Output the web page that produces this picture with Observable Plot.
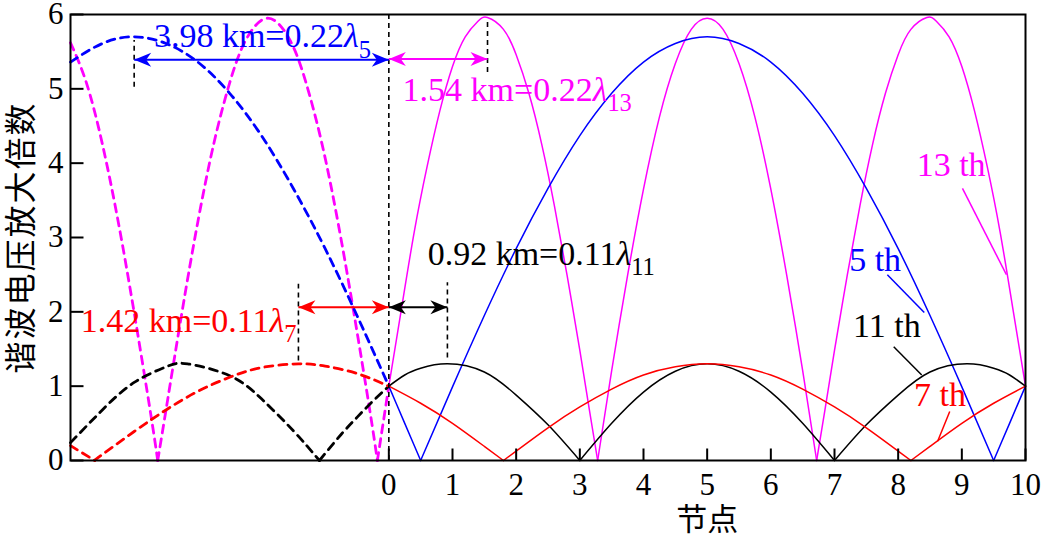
<!DOCTYPE html>
<html><head><meta charset="utf-8">
<script src="https://cdn.jsdelivr.net/npm/d3@7"></script>
<script src="https://cdn.jsdelivr.net/npm/@observablehq/plot@0.6"></script>
<style>body{margin:0;background:#fff} #chart svg{display:block}</style>
</head><body><div id="chart"></div>
<script>
// ---------- data ----------
const xTicks = [0,1,2,3,4,5,6,7,8,9,10];
const yTicks = [0,1,2,3,4,5,6];
const xDomain = [-5, 10];
const yDomain = [0, 6];
const xTitle = "节点";
const yTitle = "谐波电压放大倍数";

// 5th harmonic (blue)
const h5DashX = [-5,-4.5,-4,-3.5,-3,-2.5,-2,-1.5,-1,-0.5,0];
const h5DashY = [5.36,5.61,5.7,5.61,5.36,4.94,4.37,3.66,2.85,1.95,1.0];
const h5SolidX = [0,0.25,0.5,1,1.5,2,2.5,3,3.5,4,4.5,5,5.5,6,6.5,7,7.5,8,8.5,9,9.5,9.75,10];
const h5SolidY = [1.0,0.5,0,0.99,1.95,2.85,3.66,4.37,4.94,5.36,5.61,5.7,5.61,5.36,4.94,4.37,3.66,2.85,1.95,0.99,0,0.5,1.0];

// 13th harmonic (magenta)
const h13DashX = [-5,-4.75,-4.5,-4.25,-4,-3.75,-3.63,-3.5,-3.25,-3,-2.75,-2.5,-2.25,-1.9,-1.55,-1.3,-1.05,-0.8,-0.55,-0.3,-0.18,0];
const h13DashY = [5.62,5.08,4.26,3.21,1.99,0.68,0,0.68,1.99,3.21,4.26,5.08,5.65,5.95,5.65,5.08,4.26,3.21,1.99,0.68,0,1.0];
const h13SolidX = [0,0.2,0.4,0.6,0.8,1.0,1.2,1.4,1.55,1.8,2.0,2.2,2.4,2.6,2.8,3.0,3.15,3.28,3.5,3.75,4.0,4.25,4.5,4.75,5.0,5.25,5.5,5.75,6.0,6.25,6.5,6.72,6.85,7.0,7.2,7.4,7.6,7.8,8.0,8.2,8.45,8.6,8.8,9.0,9.2,9.4,9.6,9.8,10];
const h13SolidY = [1.0,2.05,3.08,3.95,4.7,5.3,5.7,5.91,5.96,5.8,5.46,4.94,4.26,3.43,2.49,1.48,0.68,0,1.21,2.49,3.65,4.62,5.34,5.8,5.95,5.8,5.34,4.62,3.65,2.49,1.21,0,0.68,1.48,2.49,3.43,4.26,4.94,5.46,5.8,5.96,5.91,5.7,5.3,4.7,3.95,3.08,2.05,1.0];

// 11th harmonic (black)
const h11DashX = [-5,-4.5,-4,-3.5,-3.16,-2.5,-2,-1.5,-1.09,-0.75,-0.5,-0.25,0];
const h11DashY = [0.24,0.68,1.05,1.26,1.3,1.14,0.83,0.4,0,0.35,0.58,0.8,1.0];
const h11SolidX = [0,0.25,0.5,0.92,1.5,2,2.5,3,3.5,4,4.5,5,5.5,6,6.5,7,7.5,8,8.5,9.08,9.5,9.75,10];
const h11SolidY = [1.0,1.15,1.24,1.3,1.19,0.88,0.48,0,0.5,0.92,1.2,1.3,1.2,0.92,0.5,0,0.48,0.88,1.19,1.3,1.24,1.15,1.0];

// 7th harmonic (red)
const h7DashX = [-5,-4.62,-4.5,-4,-3.5,-3,-2.5,-2,-1.42,-1,-0.5,0];
const h7DashY = [0.2,0,0.08,0.39,0.68,0.93,1.12,1.25,1.3,1.27,1.17,1.0];
const h7SolidX = [0,0.5,1,1.5,1.8,2.5,3,3.5,4,4.5,5,5.5,6,6.5,7,7.5,8.2,8.5,9,9.5,10];
const h7SolidY = [1.0,0.77,0.5,0.19,0,0.44,0.72,0.96,1.15,1.26,1.3,1.26,1.15,0.96,0.72,0.44,0,0.19,0.5,0.77,1.0];

// dotted reference lines
const refX  = [0, -4, 1.55, 0.92, -1.42];
const refY1 = [0, 5.02, 5.22, 1.38, 1.34];
const refY2 = [6, 5.65, 5.94, 2.39, 2.37];

// distance arrows
const arrowX1 = [-4, 0, -1.42, 0];
const arrowX2 = [0, 1.55, 0, 0.92];
const arrowY  = [5.39, 5.40, 2.06, 2.06];
const arrowColor = ["#0000ff", "#ff00ff", "#ff0000", "#000000"];

// distance annotations
const annMain = ["3.98 km=0.22", "1.54 km=0.22", "0.92 km=0.11", "1.42 km=0.11"];
const annSub  = ["5", "13", "11", "7"];
const annX = [-3.69, 0.215, 0.61, -4.84];
const annY = [5.56, 4.84, 2.63, 1.73];
const annColor = ["#0000ff", "#ff00ff", "#000000", "#ff0000"];

// harmonic order labels with leader lines
const labText = ["13 th", "5 th", "11 th", "7 th"];
const labX = [8.29, 7.23, 7.29, 8.25];
const labY = [3.83, 2.55, 1.66, 0.73];
const labColor = ["#ff00ff", "#0000ff", "#000000", "#ff0000"];
const leadX1 = [9.01, 7.83, 7.93, 8.81];
const leadY1 = [3.66, 2.50, 1.53, 0.66];
const leadX2 = [9.70, 8.41, 8.37, 8.62];
const leadY2 = [2.50, 1.99, 1.15, 0.26];

// ---------- build ----------
const SERIF = "'Liberation Serif','Times New Roman',serif";
const CJK = "'Noto Sans CJK SC','Noto Sans',sans-serif";

function segRows(xs, ys) {
  let seg = 0; const out = [];
  for (let i = 0; i < xs.length; i++) {
    out.push({x: xs[i], y: ys[i], seg});
    if (ys[i] === 0 && i > 0 && i < xs.length - 1) { seg++; out.push({x: xs[i], y: ys[i], seg}); }
  }
  return out;
}
const series = [
  {dx: h13DashX, dy: h13DashY, sx: h13SolidX, sy: h13SolidY, color: "#ff00ff"},
  {dx: h5DashX, dy: h5DashY, sx: h5SolidX, sy: h5SolidY, color: "#0000ff"},
  {dx: h11DashX, dy: h11DashY, sx: h11SolidX, sy: h11SolidY, color: "#000000"},
  {dx: h7DashX, dy: h7DashY, sx: h7SolidX, sy: h7SolidY, color: "#ff0000"}
];

const tickUp = {draw(ctx) { ctx.moveTo(0, 0); ctx.lineTo(0, -12); }};
const tickRight = {draw(ctx) { ctx.moveTo(0, 0); ctx.lineTo(13, 0); }};
const headRight = {draw(ctx) { ctx.moveTo(0, 0); ctx.lineTo(-17, -7); ctx.lineTo(-12, 0); ctx.lineTo(-17, 7); ctx.closePath(); }};
const headLeft = {draw(ctx) { ctx.moveTo(0, 0); ctx.lineTo(17, -7); ctx.lineTo(12, 0); ctx.lineTo(17, 7); ctx.closePath(); }};

const refRows = refX.map((x, i) => ({x, y1: refY1[i], y2: refY2[i]}));
const arrowRows = arrowX1.map((x1, i) => ({x1, x2: arrowX2[i], y: arrowY[i], c: arrowColor[i]}));
const annRows = annMain.map((t, i) => ({t, x: annX[i], y: annY[i], c: annColor[i]}));
const labRows = labText.map((t, i) => ({t, x: labX[i], y: labY[i], c: labColor[i]}));
const leadRows = leadX1.map((x1, i) => ({x1, y1: leadY1[i], x2: leadX2[i], y2: leadY2[i], c: labColor[i]}));

const marks = [];
for (const s of series) {
  marks.push(Plot.line(segRows(s.dx, s.dy), {x: "x", y: "y", z: "seg", stroke: s.color, strokeWidth: 2.8, strokeDasharray: "8,6", curve: "natural"}));
}
for (const s of series) {
  marks.push(Plot.line(segRows(s.sx, s.sy), {x: "x", y: "y", z: "seg", stroke: s.color, strokeWidth: 1.5, curve: "natural"}));
}
marks.push(Plot.ruleX(refRows, {x: "x", y1: "y1", y2: "y2", stroke: "#000", strokeWidth: 1.6, strokeDasharray: "5,4"}));
marks.push(Plot.link(arrowRows, {x1: "x1", x2: "x2", y1: "y", y2: "y", stroke: "c", strokeWidth: 2}));
marks.push(Plot.dot(arrowRows, {x: "x2", y: "y", symbol: headRight, fill: "c", stroke: "none"}));
marks.push(Plot.dot(arrowRows, {x: "x1", y: "y", symbol: headLeft, fill: "c", stroke: "none"}));
marks.push(Plot.link(leadRows, {x1: "x1", y1: "y1", x2: "x2", y2: "y2", stroke: "c", strokeWidth: 1.5}));
marks.push(Plot.text(annRows, {x: "x", y: "y", text: "t", fill: "c", fontSize: 34, fontFamily: SERIF, textAnchor: "start", lineAnchor: "bottom"}));
marks.push(Plot.text(labRows, {x: "x", y: "y", text: "t", fill: "c", fontSize: 34, fontFamily: SERIF, textAnchor: "start", lineAnchor: "bottom"}));
marks.push(Plot.frame({stroke: "#000", strokeWidth: 2}));
marks.push(Plot.dot(xTicks, {x: d => d, y: yDomain[0], symbol: tickUp, stroke: "#000", strokeWidth: 2, fill: "none"}));
marks.push(Plot.dot(yTicks, {x: xDomain[0], y: d => d, symbol: tickRight, stroke: "#000", strokeWidth: 2, fill: "none"}));
marks.push(Plot.axisX(xTicks, {tickSize: 0, tickPadding: 12, fontSize: 31, fontFamily: SERIF, label: null, tickFormat: d => String(d)}));
marks.push(Plot.axisY(yTicks, {tickSize: 0, tickPadding: 7, fontSize: 31, fontFamily: SERIF, label: null, tickFormat: d => String(d)}));
marks.push(Plot.text([yTitle], {text: d => d, frameAnchor: "left", textAnchor: "middle", lineAnchor: "middle", dx: -49, rotate: -90, fontSize: 32, fontFamily: CJK, fill: "#000"}));
marks.push(Plot.text([xTitle], {text: d => d, x: d3.mean(d3.extent(xTicks)), frameAnchor: "bottom", lineAnchor: "middle", dy: 60, fontSize: 31, fontFamily: CJK, fill: "#000"}));

const chart = Plot.plot({
  width: 1044, height: 536,
  marginLeft: 70, marginRight: 19, marginTop: 14, marginBottom: 76,
  x: {domain: xDomain},
  y: {domain: yDomain},
  style: {background: "#fff", color: "#000", fontFamily: SERIF, overflow: "visible"},
  marks
});
document.getElementById("chart").appendChild(chart);

// italic lambda with subscript on the distance annotations
d3.select(chart).selectAll("text").each(function() {
  const i = annMain.indexOf(this.textContent);
  if (i < 0) return;
  const t = d3.select(this);
  t.text(null);
  t.append("tspan").text(annMain[i]);
  t.append("tspan").attr("font-style", "italic").text("λ");
  t.append("tspan").attr("dy", "0.42em").attr("font-size", "0.72em").text(annSub[i]);
});
d3.select(chart).selectAll("text").filter(function() { return this.textContent === yTitle; }).attr("letter-spacing", "2px");
</script></body></html>
